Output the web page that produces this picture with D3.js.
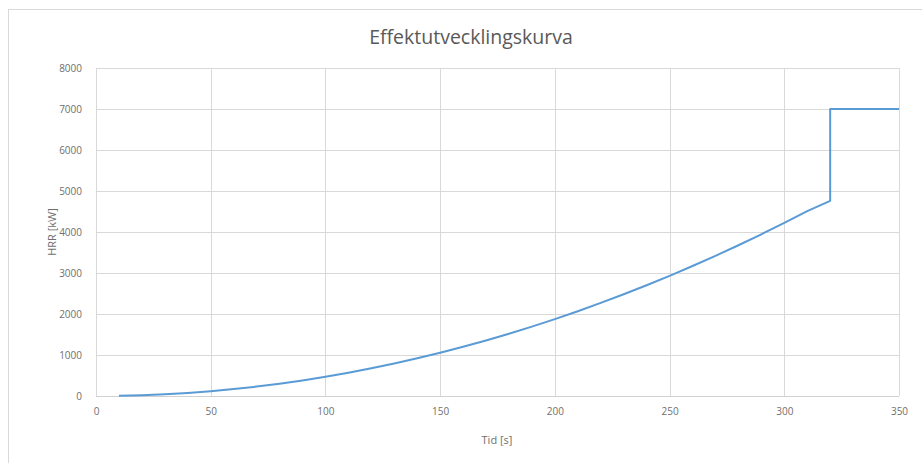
<!DOCTYPE html>
<html>
<head>
<meta charset="utf-8">
<script src="https://cdn.jsdelivr.net/npm/d3@7"></script>
<style>
  html, body { margin: 0; padding: 0; background: #fff; }
  svg { display: block; font-family: "Open Sans", "Liberation Sans", sans-serif; }
</style>
</head>
<body>
<svg id="chart" width="922" height="463"></svg>
<script>
// Heat release rate curve: growth phase, then step to the plateau
const timeS = [10, 20, 30, 40, 50, 60, 70, 80, 90, 100, 110, 120, 130, 140, 150, 160,
  170, 180, 190, 200, 210, 220, 230, 240, 250, 260, 270, 280, 290, 300, 310, 320, 320, 350];
const hrrKW = [5, 19, 42, 75, 117, 169, 230, 300, 380, 469, 567, 675, 793, 919, 1055, 1201,
  1355, 1520, 1693, 1876, 2068, 2270, 2481, 2701, 2931, 3170, 3419, 3677, 3944, 4221, 4507, 4760, 7000, 7000];
const xTicks = [0, 50, 100, 150, 200, 250, 300, 350];
const yTicks = [0, 1000, 2000, 3000, 4000, 5000, 6000, 7000, 8000];
const chartTitle = "Effektutvecklingskurva";
const xTitle = "Tid [s]";
const yTitle = "HRR [kW]";

const svg = d3.select("#chart");
const plot = { left: 96, right: 899, top: 68, bottom: 396 };

const x = d3.scaleLinear().domain([0, 350]).range([plot.left, plot.right]);
const y = d3.scaleLinear().domain([0, 8000]).range([plot.bottom, plot.top]);

// chart area frame
svg.append("rect")
  .attr("x", 8.5).attr("y", 9.5).attr("width", 930).attr("height", 470)
  .attr("fill", "#fff").attr("stroke", "#d9d9d9").attr("stroke-width", 1);

// horizontal gridlines
svg.append("g")
  .selectAll("line").data(yTicks).join("line")
  .attr("x1", plot.left).attr("x2", plot.right)
  .attr("y1", d => Math.round(y(d)) + 0.5).attr("y2", d => Math.round(y(d)) + 0.5)
  .attr("stroke", "#d9d9d9").attr("stroke-width", 1);

// vertical gridlines
svg.append("g")
  .selectAll("line").data(xTicks).join("line")
  .attr("y1", plot.top).attr("y2", plot.bottom)
  .attr("x1", d => Math.round(x(d)) + 0.5).attr("x2", d => Math.round(x(d)) + 0.5)
  .attr("stroke", "#d9d9d9").attr("stroke-width", 1);

// axes (labels only, lines come from the grid)
const xAxis = svg.append("g")
  .attr("transform", `translate(0,${plot.bottom})`)
  .call(d3.axisBottom(x).tickValues(xTicks).tickSize(0).tickPadding(12));
const yAxis = svg.append("g")
  .attr("transform", `translate(${plot.left},0)`)
  .call(d3.axisLeft(y).tickValues(yTicks).tickSize(0).tickPadding(14).tickFormat(d3.format("d")));
[xAxis, yAxis].forEach(g => {
  g.select(".domain").remove();
  g.selectAll("text").attr("fill", "#6f6f6f").attr("font-size", 10)
    .attr("font-family", "'Open Sans', 'Liberation Sans', sans-serif");
});
svg.append("line")
  .attr("x1", plot.left).attr("x2", plot.right)
  .attr("y1", plot.bottom + 0.5).attr("y2", plot.bottom + 0.5)
  .attr("stroke", "#d0d0d0");

// series
const line = d3.line().x((d, i) => x(timeS[i])).y(d => y(d));
svg.append("path")
  .datum(hrrKW)
  .attr("d", line)
  .attr("fill", "none")
  .attr("stroke", "#5b9bd5")
  .attr("stroke-width", 2)
  .attr("stroke-linejoin", "round");

// titles
svg.append("text")
  .attr("x", 471).attr("y", 44)
  .attr("text-anchor", "middle")
  .attr("font-size", 19.5).attr("fill", "#595959")
  .text(chartTitle);
svg.append("text")
  .attr("x", 497).attr("y", 444)
  .attr("text-anchor", "middle")
  .attr("font-size", 11).attr("fill", "#6f6f6f")
  .text(xTitle);
svg.append("text")
  .attr("transform", "translate(56,232) rotate(-90)")
  .attr("text-anchor", "middle")
  .attr("font-size", 11).attr("fill", "#6f6f6f")
  .text(yTitle);
</script>
</body>
</html>
